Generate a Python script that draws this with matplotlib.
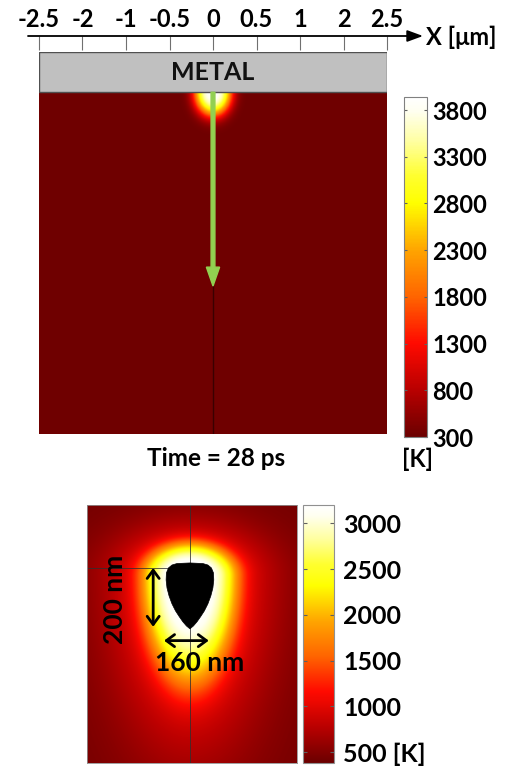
import numpy as np
import matplotlib
matplotlib.use("Agg")
import matplotlib.pyplot as plt
from matplotlib.colors import LinearSegmentedColormap, Normalize
from matplotlib.cm import ScalarMappable
from matplotlib.patches import Rectangle, Polygon, ArrowStyle

plt.rcParams['font.family'] = ['Lato', 'DejaVu Sans']
plt.rcParams['font.weight'] = 'bold'

W, H, DPI = 512, 767, 100

# ---- top panel: temperature below the metal film ----
x_tick_labels = ['-2.5', '-2', '-1', '-0.5', '0', '0.5', '1', '2', '2.5']
x_range_um = (-2.5, 2.5)
field_depth_um = 4.885
metal_thickness_um = 0.575
top_cbar_ticks = [300, 800, 1300, 1800, 2300, 2800, 3300, 3800]
top_T_limits = (300, 3940)
top_T_background = 330
top_T_peak = 3900
top_spot_size_um = (0.27, 0.34)      # lateral, depth
arrow_depth_um = 2.77
time_label = 'Time = 28 ps'

# ---- bottom panel: close-up around the void ----
bot_x_range_nm = (-350, 364)
bot_depth_nm = 877
bot_cbar_ticks = [500, 1000, 1500, 2000, 2500, 3000]
bot_cbar_labels = ['500 [K]', '1000', '1500', '2000', '2500', '3000']
bot_T_limits = (380, 3200)
bot_T_background = 430
hot_amplitude = 1800
hot_center_nm = (0, -241)
hot_size_nm = (158, 111, 355)         # lateral, upward, downward
halo_amplitude = 1142
halo_size_nm = (245, 160, 520)
void_top_nm = -197
void_depth_nm = [0, 2, 7, 17, 34, 58, 85, 112, 139, 163, 183, 200, 214, 224]
void_halfwidth_nm = [0, 44, 61, 73, 80, 81, 78, 71, 61, 49, 36, 24, 12, 0]
marker_line_nm = -214
height_arrow_nm = (-125, -214, -414)   # x, y from, y to
width_arrow_nm = (-461, -88, 64)       # y, x from, x to
height_label = '200 nm'
width_label = '160 nm'

# COMSOL-like thermal palette
thermal_stops = [0.0, 0.137, 0.275, 0.412, 0.549, 0.69, 0.77, 0.87, 0.96, 1.0]
thermal_colors = ['#6b0000', '#b80000', '#ff0a00', '#ff6400', '#ffa400',
                  '#ffff00', '#ffff30', '#ffffa0', '#fffff0', '#ffffff']
thermal = LinearSegmentedColormap.from_list(
    'thermal', list(zip(thermal_stops, thermal_colors)))


def box(l, t, r, b):
    return [l / W, 1 - b / H, (r - l) / W, (b - t) / H]


fig = plt.figure(figsize=(W / DPI, H / DPI), dpi=DPI)

# ================= top panel =================
ax = fig.add_axes(box(39, 52, 387, 434))
xs = np.linspace(*x_range_um, 600)
ys = np.linspace(-field_depth_um, 0, 600)
X, Y = np.meshgrid(xs, ys)
r = np.sqrt((X / top_spot_size_um[0]) ** 2 + (Y / top_spot_size_um[1]) ** 2)
T_top = top_T_background + (top_T_peak - top_T_background) * np.exp(-r ** 3)
norm_top = Normalize(*top_T_limits)
ax.imshow(T_top, cmap=thermal, norm=norm_top, origin='lower',
          extent=(*x_range_um, -field_depth_um, 0), aspect='auto',
          interpolation='bilinear')
ax.add_patch(Rectangle((x_range_um[0], 0), x_range_um[1] - x_range_um[0],
                       metal_thickness_um, fc='#c0c0c0', ec='#505050', lw=1.0))
ax.text(0, metal_thickness_um / 2, 'METAL', ha='center', va='center',
        fontsize=18, fontweight='bold', color='#111111')
ax.plot([0, 0], [-field_depth_um, -arrow_depth_um], color='#3a0000', lw=1.0)
ax.arrow(0, 0, 0, -arrow_depth_um, width=0.055, head_width=0.19,
         head_length=0.27, length_includes_head=True, fc='#92d050',
         ec='#92d050', zorder=5)
ax.set_xlim(*x_range_um)
ax.set_ylim(-field_depth_um, metal_thickness_um)
ax.set_axis_off()

# scale bar on top
sax = fig.add_axes(box(39, 36, 387, 52))
sax.set_xlim(*x_range_um)
sax.set_ylim(0, 1)
for s in sax.spines.values():
    s.set_visible(False)
sax.set_yticks([])
sax.set_xticks(np.linspace(*x_range_um, len(x_tick_labels)))
sax.set_xticklabels(x_tick_labels)
sax.xaxis.set_ticks_position('top')
sax.tick_params(axis='x', direction='in', length=10, width=0.8,
                color='#707070', labelsize=17, pad=3.5,
                labeltop=True, labelbottom=False)
sax.patch.set_alpha(0)
sax.annotate('', xy=(1 + 36 / 348, 1), xytext=(-11 / 348, 1),
             xycoords='axes fraction', textcoords='axes fraction',
             arrowprops=dict(arrowstyle=ArrowStyle('-|>', head_length=0.95,
                                                   head_width=0.35),
                             lw=1.3, color='black', shrinkA=0, shrinkB=0,
                             mutation_scale=10))
fig.text(426 / W, 1 - 37 / H, 'X [\u03bcm]', ha='left', va='center',
         fontsize=17, fontweight='bold')

# top colorbar
cax = fig.add_axes(box(404, 97, 427, 437))
cb = fig.colorbar(ScalarMappable(norm_top, thermal), cax=cax)
cb.set_ticks(top_cbar_ticks)
cax.tick_params(axis='y', direction='in', length=2.5, width=0.8,
                color='#606060', left=True, right=True, labelsize=17, pad=4)
for lbl in cax.get_yticklabels():
    lbl.set_fontweight('bold')
cb.outline.set_edgecolor('#808080')
cb.outline.set_linewidth(0.8)

fig.text(216 / W, 1 - 459 / H, time_label, ha='center', va='center',
         fontsize=17.5, fontweight='bold')
fig.text(418 / W, 1 - 459 / H, '[K]', ha='center', va='center',
         fontsize=17, fontweight='bold')

# ================= bottom panel =================
bx = fig.add_axes(box(87, 505, 297, 763))
xs = np.linspace(*bot_x_range_nm, 500)
ys = np.linspace(-bot_depth_nm, 0, 600)
X, Y = np.meshgrid(xs, ys)
dx = X - hot_center_nm[0]
dy = Y - hot_center_nm[1]
sy = np.where(dy > 0, hot_size_nm[1], hot_size_nm[2])
hy = np.where(dy > 0, halo_size_nm[1], halo_size_nm[2])
r1 = np.sqrt((dx / hot_size_nm[0]) ** 2 + (dy / sy) ** 2)
r2 = np.sqrt((dx / halo_size_nm[0]) ** 2 + (dy / hy) ** 2)
T_bot = (bot_T_background
         + hot_amplitude * np.exp(-r1 ** 4)
         + halo_amplitude * np.exp(-r2 ** 2))
norm_bot = Normalize(*bot_T_limits)
bx.imshow(T_bot, cmap=thermal, norm=norm_bot, origin='lower',
          extent=(*bot_x_range_nm, -bot_depth_nm, 0), aspect='auto',
          interpolation='bilinear')
bx.plot([0, 0], [-bot_depth_nm, 0], color='#303030', lw=0.7, alpha=0.8)
bx.plot([bot_x_range_nm[0], 0], [marker_line_nm, marker_line_nm],
        color='#303030', lw=0.7, alpha=0.8)
vd = np.array(void_depth_nm)
vw = np.array(void_halfwidth_nm)
outline = np.concatenate([np.column_stack([vw, void_top_nm - vd]),
                          np.column_stack([-vw[::-1], void_top_nm - vd[::-1]])])
bx.add_patch(Polygon(outline, closed=True, fc='black', ec='black', lw=0.5,
                     zorder=4))
arrow_style = ArrowStyle('<->', head_length=0.42, head_width=0.31)
bx.annotate('', xy=(height_arrow_nm[0], height_arrow_nm[2]),
            xytext=(height_arrow_nm[0], height_arrow_nm[1]),
            arrowprops=dict(arrowstyle=arrow_style, lw=2.0, color='black',
                            shrinkA=0, shrinkB=0, mutation_scale=14))
bx.annotate('', xy=(width_arrow_nm[2], width_arrow_nm[0]),
            xytext=(width_arrow_nm[1], width_arrow_nm[0]),
            arrowprops=dict(arrowstyle=arrow_style, lw=2.0, color='black',
                            shrinkA=0, shrinkB=0, mutation_scale=14))
bx.text(-254, -322, height_label, rotation=90, ha='center', va='center',
        fontsize=19, fontweight='bold')
bx.text(34, -536, width_label, ha='center', va='center',
        fontsize=19, fontweight='bold')
bx.set_xlim(*bot_x_range_nm)
bx.set_ylim(-bot_depth_nm, 0)
bx.set_xticks([])
bx.set_yticks([])
for s in bx.spines.values():
    s.set_edgecolor('#909090')
    s.set_linewidth(0.6)

# bottom colorbar
cbx = fig.add_axes(box(303, 505, 334, 763))
cb2 = fig.colorbar(ScalarMappable(norm_bot, thermal), cax=cbx)
cb2.set_ticks(bot_cbar_ticks)
cb2.set_ticklabels(bot_cbar_labels)
cbx.tick_params(axis='y', direction='in', length=3, width=0.8,
                color='#606060', left=True, right=True, labelsize=18, pad=6.5)
for lbl in cbx.get_yticklabels():
    lbl.set_fontweight('bold')
cb2.outline.set_edgecolor('#909090')
cb2.outline.set_linewidth(0.8)

fig.savefig('out.png', dpi=DPI)
